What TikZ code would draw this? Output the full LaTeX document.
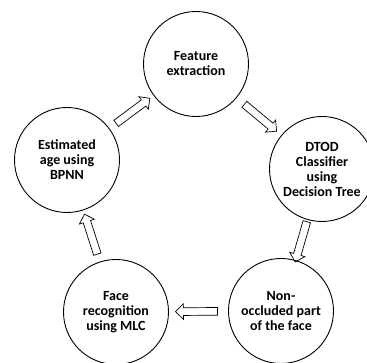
\documentclass[tikz,border=0pt]{standalone}
\usepackage{fontspec}
\setmainfont{Carlito}
\usetikzlibrary{shapes.arrows}
\begin{document}
\begin{tikzpicture}[x=1pt,y=1pt,
  stage/.style={circle, draw, line width=0.9pt, minimum size=105pt, inner sep=0pt,
    align=center, font=\fontsize{14}{15}\selectfont\bfseries},
  flow/.style={single arrow, draw, line width=0.7pt, inner sep=3.5pt,
    single arrow head extend=4pt, minimum height=42pt, sloped, allow upside down, midway}]
\useasboundingbox (0,0) rectangle (367,363);
\node[stage] (feat) at (196,299) {Feature\\extraction};
\node[stage] (dtod) at (322,194) {DTOD\\Classifier\\using\\Decision Tree};
\node[stage] (non)  at (281,52)  {Non-\\occluded part\\of the face};
\node[stage] (face) at (116,51)  {Face\\recognition\\using MLC};
\node[stage] (est)  at (67,203)  {Estimated\\age using\\BPNN};
\path (est.center)  -- (feat.center) node[flow] {};
\path (feat.center) -- (dtod.center) node[flow] {};
\path (dtod.center) -- (non.center)  node[flow] {};
\path (non.center)  -- (face.center) node[flow] {};
\path (face.center) -- (est.center)  node[flow] {};
\end{tikzpicture}
\end{document}
